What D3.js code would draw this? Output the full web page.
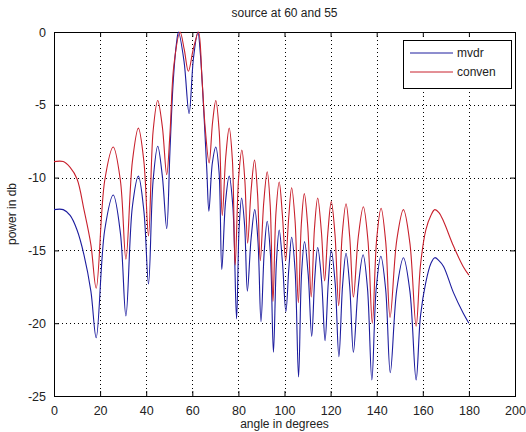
<!DOCTYPE html>
<html>
<head>
<meta charset="utf-8">
<script src="https://cdn.jsdelivr.net/npm/d3@7"></script>
<style>
  body { margin: 0; background: #fff; }
  svg text { font-family: "Liberation Sans", Arial, sans-serif; fill: #222; }
</style>
</head>
<body>
<svg id="chart" width="526" height="432"></svg>
<script>
// angle (deg), power (db)
const mvdrPts = [
  [0,-12.2],[4,-12.2],[7,-12.6],[10,-13.6],[13,-15.3],[16,-17.8],[18.3,-21.0],
  [22,-13.6],[25.7,-11.2],[28.8,-13.8],[31.2,-19.5],
  [34,-12.0],[36.6,-9.9],[39,-12.3],[41,-17.3],
  [43,-10.2],[45,-7.85],[47,-9.9],[48.9,-13.5],
  [50.3,-8.2],[51.8,-3.2],[53.2,-0.7],[54,0],[56.4,-2.0],[58.6,-5.6],[60.5,-1.8],[62.4,0],[63.5,-1.5],[65,-5.5],[66.3,-9.5],[67.2,-12.3],
  [68.7,-9.0],[70.2,-7.9],[71.6,-9.6],[72.8,-16.3],
  [74.4,-11.7],[76,-9.9],[77.6,-12.0],[79.2,-19.7],
  [80.3,-13.5],[81.4,-11.4],[82.7,-13.3],[83.9,-17.8],
  [85.5,-14.2],[87.1,-12.2],[88.5,-14.4],[89.8,-19.9],
  [91.2,-15.1],[92.5,-13.0],[93.9,-15.3],[95.2,-22.0],
  [96.5,-15.8],[97.7,-13.6],[99.1,-15.8],[100.6,-19.2],
  [101.9,-16.2],[103.1,-14.1],[104.6,-16.4],[106.1,-23.7],
  [107.4,-16.6],[108.7,-14.4],[110.3,-16.7],[111.8,-20.9],
  [113.1,-17.0],[114.4,-14.8],[116.1,-17.1],[117.6,-21.2],
  [119,-17.2],[120.3,-15.0],[122,-17.3],[123.6,-22.3],
  [125.2,-17.4],[126.7,-15.2],[128.3,-17.5],[129.9,-22.0],
  [132,-17.5],[134.1,-15.3],[136,-17.6],[137.9,-23.9],
  [139.8,-17.6],[141.8,-15.4],[143.9,-17.7],[145.9,-23.4],
  [148.7,-17.7],[151.6,-15.5],[154.4,-17.8],[157.1,-23.9],
  [159,-19.5],[161.3,-17.2],[163.5,-15.9],[165.2,-15.5],[167,-15.7],[169,-16.1],[173.3,-17.9],[177.5,-19.3],[180,-20.0]
];

const convenPts = [
  [0,-8.9],[4,-8.9],[7,-9.3],[10,-10.1],[13,-12.2],[16,-14.6],[18.3,-17.6],
  [22,-10.2],[25.7,-7.9],[28.8,-10.2],[31.2,-15.6],
  [34,-8.9],[36.6,-6.6],[39,-8.9],[41,-14.0],
  [43,-6.8],[45,-4.7],[47,-6.5],[48.9,-9.8],
  [50.3,-7.0],[52,-2.3],[54.7,0],[56.5,-1.2],[58.3,-2.7],[60.4,-1.2],[62.7,0],[64.2,-3.2],[65.6,-6.6],[67.3,-9.0],
  [68.8,-6.2],[70.2,-4.7],[71.7,-6.9],[73,-12.6],
  [74.5,-8.6],[76,-6.6],[77.4,-8.8],[78.6,-16.0],
  [80.1,-10.0],[81.5,-8.1],[82.8,-10.2],[84,-14.5],
  [85.5,-10.9],[87,-8.8],[88.3,-11.1],[89.5,-15.7],
  [91,-11.7],[92.5,-9.6],[93.8,-11.9],[95,-18.5],
  [96.3,-12.4],[97.7,-10.3],[99.1,-12.6],[100.5,-15.7],
  [101.8,-12.8],[103.1,-10.7],[104.6,-13.0],[106,-18.6],
  [107.3,-13.2],[108.6,-11.1],[110.1,-13.4],[111.6,-18.2],
  [113,-13.5],[114.4,-11.4],[116,-13.7],[117.4,-17.1],
  [118.8,-13.8],[120.3,-11.65],[121.9,-13.9],[123.5,-18.8],
  [125,-14.0],[126.7,-11.8],[128.3,-14.1],[129.9,-18.2],
  [132,-14.1],[134.2,-12.0],[136.2,-14.3],[138.1,-20.0],
  [140,-14.2],[141.9,-12.1],[143.9,-14.4],[145.8,-19.6],
  [148.7,-14.3],[151.6,-12.2],[154.4,-14.5],[157.1,-20.2],
  [159,-16.0],[161.3,-13.6],[163.5,-12.6],[165.2,-12.2],[167,-12.4],[169,-13.0],[173.3,-14.7],[177.5,-16.1],[180,-16.7]
];

const xTicks = [0, 20, 40, 60, 80, 100, 120, 140, 160, 180, 200];
const yTicks = [0, -5, -10, -15, -20, -25];
const seriesNames = ["mvdr", "conven"];
const seriesColors = ["#1c1c9e", "#c8202c"];

const svg = d3.select("#chart");
const pLeft = 54, pRight = 515, pTop = 32, pBottom = 396;

const x = d3.scaleLinear().domain([0, 200]).range([pLeft, pRight]);
const y = d3.scaleLinear().domain([-25, 0]).range([pBottom, pTop]);

// dotted grid
svg.append("g")
  .selectAll("line")
  .data(xTicks.slice(1, -1))
  .join("line")
  .attr("x1", d => Math.round(x(d)) + 0.5).attr("x2", d => Math.round(x(d)) + 0.5)
  .attr("y1", pTop).attr("y2", pBottom)
  .attr("stroke", "#000").attr("stroke-width", 1)
  .attr("stroke-dasharray", "1,3");

svg.append("g")
  .selectAll("line")
  .data(yTicks.slice(1, -1))
  .join("line")
  .attr("x1", pLeft).attr("x2", pRight)
  .attr("y1", d => Math.round(y(d)) + 0.5).attr("y2", d => Math.round(y(d)) + 0.5)
  .attr("stroke", "#000").attr("stroke-width", 1)
  .attr("stroke-dasharray", "1,3");

// axes, ticks pointing inward like matlab, plain hyphen minus
const fmt = d => String(d);
svg.append("g")
  .attr("transform", `translate(0,${pBottom})`)
  .call(d3.axisBottom(x).tickValues(xTicks).tickFormat(fmt).tickSizeInner(-5).tickSizeOuter(0).tickPadding(10));
svg.append("g")
  .attr("transform", `translate(${pLeft},0)`)
  .call(d3.axisLeft(y).tickValues(yTicks).tickFormat(fmt).tickSizeInner(-5).tickSizeOuter(0).tickPadding(8));
svg.append("g")
  .attr("transform", `translate(0,${pTop})`)
  .call(d3.axisTop(x).tickValues(xTicks).tickSizeInner(-5).tickSizeOuter(0).tickFormat(""));
svg.append("g")
  .attr("transform", `translate(${pRight},0)`)
  .call(d3.axisRight(y).tickValues(yTicks).tickSizeInner(-5).tickSizeOuter(0).tickFormat(""));

svg.selectAll(".domain").remove();
svg.selectAll(".tick line").attr("stroke", "#000");
svg.selectAll(".tick text").style("font-size", "12.5px").attr("fill", "#222");

svg.append("rect")
  .attr("x", pLeft + 0.5).attr("y", pTop + 0.5)
  .attr("width", pRight - pLeft).attr("height", pBottom - pTop)
  .attr("fill", "none").attr("stroke", "#000").attr("stroke-width", 1);

// curves
const line = d3.line()
  .x(d => x(d[0]))
  .y(d => y(d[1]))
  .curve(d3.curveCatmullRom.alpha(0.5));

[mvdrPts, convenPts].forEach((pts, i) => {
  svg.append("path")
    .datum(pts)
    .attr("d", line)
    .attr("fill", "none")
    .attr("stroke", seriesColors[i])
    .attr("stroke-width", 1.1);
});

// legend
const lg = svg.append("g");
lg.append("rect")
  .attr("x", 403.5).attr("y", 40.5).attr("width", 108).attr("height", 48)
  .attr("fill", "#fff").attr("stroke", "#000");
seriesNames.forEach((name, i) => {
  const ly = 53 + i * 19;
  lg.append("line")
    .attr("x1", 410).attr("x2", 453).attr("y1", ly).attr("y2", ly)
    .attr("stroke", seriesColors[i]).attr("stroke-width", 1);
  lg.append("text")
    .attr("x", 457).attr("y", ly + 4)
    .style("font-size", "12px")
    .text(name);
});

// titles
svg.append("text")
  .attr("x", (pLeft + pRight) / 2).attr("y", 17)
  .attr("text-anchor", "middle")
  .style("font-size", "12px")
  .text("source at 60 and 55");

svg.append("text")
  .attr("x", (pLeft + pRight) / 2).attr("y", 428)
  .attr("text-anchor", "middle")
  .style("font-size", "12px")
  .text("angle in degrees");

svg.append("text")
  .attr("transform", `translate(16,${(pTop + pBottom) / 2}) rotate(-90)`)
  .attr("text-anchor", "middle")
  .style("font-size", "12px")
  .text("power in db");
</script>
</body>
</html>
